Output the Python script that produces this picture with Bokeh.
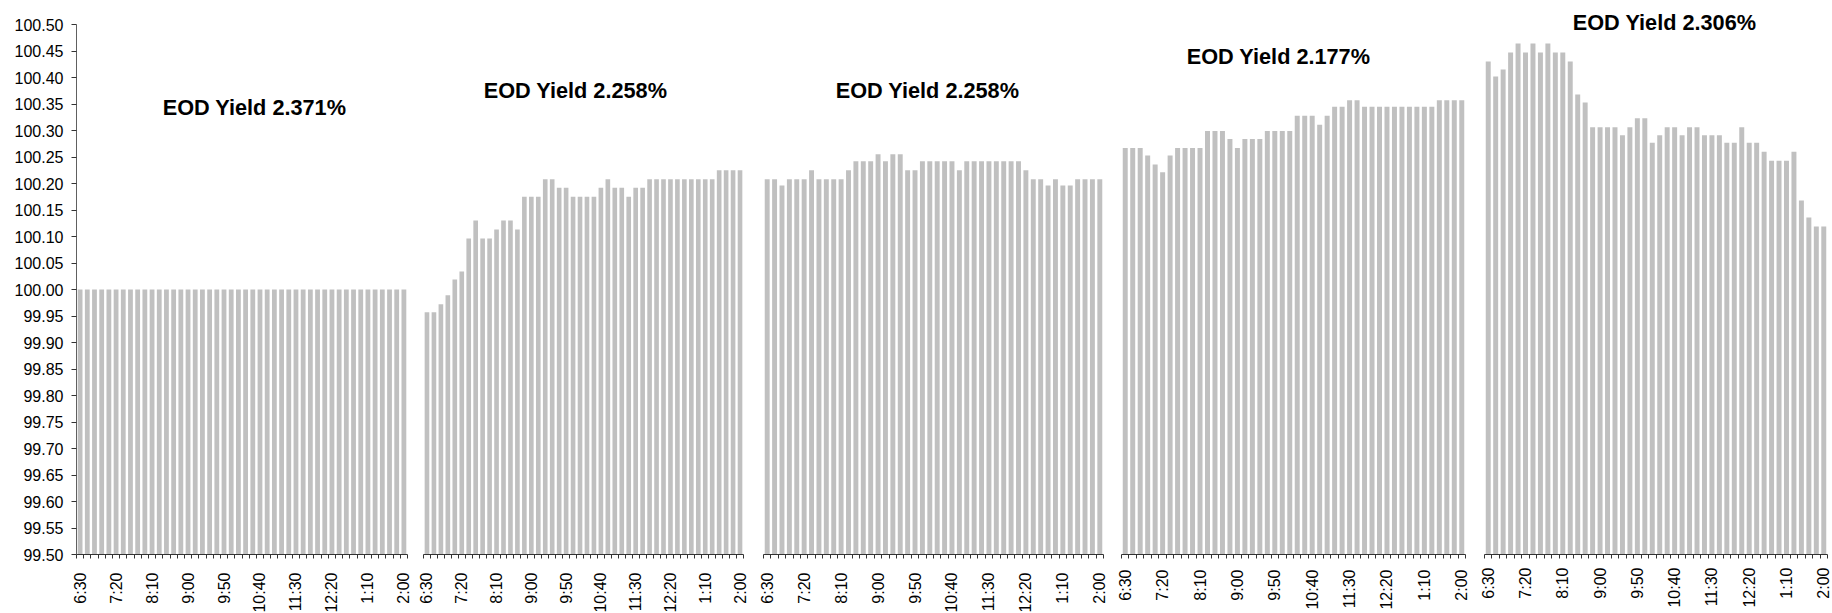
import numpy as np
from bokeh.plotting import figure
from bokeh.layouts import row
from bokeh.models import Range1d, FixedTicker, Label, ColumnDataSource, PrintfTickFormatter
from bokeh.embed import file_html
from bokeh.resources import INLINE

# ---------------- data ----------------
TIMES = ["6:30", "6:40", "6:50",
         "7:00", "7:10", "7:20", "7:30", "7:40", "7:50",
         "8:00", "8:10", "8:20", "8:30", "8:40", "8:50",
         "9:00", "9:10", "9:20", "9:30", "9:40", "9:50",
         "10:00", "10:10", "10:20", "10:30", "10:40", "10:50",
         "11:00", "11:10", "11:20", "11:30", "11:40", "11:50",
         "12:00", "12:10", "12:20", "12:30", "12:40", "12:50",
         "1:00", "1:10", "1:20", "1:30", "1:40", "1:50",
         "2:00"]
LABEL_EVERY = 5

TITLES = ["EOD Yield 2.371%", "EOD Yield 2.258%", "EOD Yield 2.258%",
          "EOD Yield 2.177%", "EOD Yield 2.306%"]

DAY1 = [100.00, 100.00, 100.00, 100.00, 100.00, 100.00, 100.00, 100.00, 100.00, 100.00,
        100.00, 100.00, 100.00, 100.00, 100.00, 100.00, 100.00, 100.00, 100.00, 100.00,
        100.00, 100.00, 100.00, 100.00, 100.00, 100.00, 100.00, 100.00, 100.00, 100.00,
        100.00, 100.00, 100.00, 100.00, 100.00, 100.00, 100.00, 100.00, 100.00, 100.00,
        100.00, 100.00, 100.00, 100.00, 100.00, 100.00]

DAY2 = [99.957, 99.957, 99.972, 99.989, 100.019, 100.034, 100.096, 100.130, 100.096, 100.096,
        100.113, 100.130, 100.130, 100.113, 100.175, 100.175, 100.175, 100.208, 100.208, 100.192,
        100.192, 100.175, 100.175, 100.175, 100.175, 100.192, 100.208, 100.192, 100.192, 100.175,
        100.192, 100.192, 100.208, 100.208, 100.208, 100.208, 100.208, 100.208, 100.208, 100.208,
        100.208, 100.208, 100.225, 100.225, 100.225, 100.225]

DAY3 = [100.208, 100.208, 100.196, 100.208, 100.208, 100.208, 100.225, 100.208, 100.208, 100.208,
        100.208, 100.225, 100.242, 100.242, 100.242, 100.255, 100.242, 100.255, 100.255, 100.225,
        100.225, 100.242, 100.242, 100.242, 100.242, 100.242, 100.225, 100.242, 100.242, 100.242,
        100.242, 100.242, 100.242, 100.242, 100.242, 100.225, 100.208, 100.208, 100.196, 100.208,
        100.196, 100.196, 100.208, 100.208, 100.208, 100.208]

DAY4 = [100.267, 100.267, 100.267, 100.253, 100.236, 100.221, 100.253, 100.267, 100.267, 100.267,
        100.267, 100.299, 100.299, 100.299, 100.284, 100.267, 100.284, 100.284, 100.284, 100.299,
        100.299, 100.299, 100.299, 100.328, 100.328, 100.328, 100.311, 100.328, 100.345, 100.345,
        100.357, 100.357, 100.345, 100.345, 100.345, 100.345, 100.345, 100.345, 100.345, 100.345,
        100.345, 100.345, 100.357, 100.357, 100.357, 100.357]

DAY5 = [100.430, 100.402, 100.415, 100.447, 100.464, 100.447, 100.464, 100.447, 100.464, 100.447,
        100.447, 100.430, 100.368, 100.353, 100.306, 100.306, 100.306, 100.306, 100.291, 100.306,
        100.323, 100.323, 100.277, 100.291, 100.306, 100.306, 100.291, 100.306, 100.306, 100.291,
        100.291, 100.291, 100.277, 100.277, 100.306, 100.277, 100.277, 100.260, 100.243, 100.243,
        100.243, 100.260, 100.168, 100.136, 100.119, 100.119]

SERIES = [DAY1, DAY2, DAY3, DAY4, DAY5]

Y_MIN = 99.50
Y_MAX = 100.50
Y_STEP = 0.05

# ---------------- layout / style ----------------
BAR_COLOR = "#C0C0C0"
FONT = "Liberation Sans"
TOTAL_H = 613
FRAME_H = 548
PX_PER_UNIT = 530.0
Y_TOP = Y_MIN + FRAME_H / PX_PER_UNIT

FRAME_W = [331, 320, 340, 344, 343]
B_LEFT = [76, 8, 10, 9, 10]
B_RIGHT = [8, 10, 9, 9, 4]
B_TOP = [1, 1, 1, 4, 6]
STANDOFF = [14, 14, 14, 11, 9]
TITLE_X = [24.24, 21.35, 21.69, 20.5, 23.65]
TITLE_Y = [100.344, 100.375, 100.375, 100.439, 100.503]

n = len(TIMES)
xs = np.arange(n)
major = [k for k in range(0, n, LABEL_EVERY)]
minor = [k - 0.5 for k in range(n + 1)]
overrides = {k: TIMES[k] for k in major}
yticks = [round(v, 2) for v in np.arange(Y_MIN, Y_MAX + 1e-9, Y_STEP)]

figs = []
for i, vals in enumerate(SERIES):
    bb = TOTAL_H - FRAME_H - B_TOP[i]
    p = figure(frame_width=FRAME_W[i], frame_height=FRAME_H, title=None,
               x_range=Range1d(-0.5, n - 0.5), y_range=Range1d(Y_MIN, Y_TOP),
               output_backend="svg", toolbar_location=None,
               min_border=1,
               min_border_left=B_LEFT[i], min_border_right=B_RIGHT[i],
               min_border_top=B_TOP[i], min_border_bottom=bb,
               y_axis_location="left" if i == 0 else None)
    p.background_fill_color = "white"
    p.border_fill_color = "white"
    p.outline_line_color = None
    p.xgrid.visible = False
    p.ygrid.visible = False

    src = ColumnDataSource(dict(x=xs, top=vals, t=TIMES))
    p.vbar(x="x", top="top", bottom=Y_MIN, width=0.667, source=src,
           fill_color=BAR_COLOR, line_color=None)

    xa = p.xaxis[0]
    xa.ticker = FixedTicker(ticks=major, minor_ticks=minor)
    xa.major_label_overrides = overrides
    xa.major_tick_out = 0
    xa.major_tick_in = 0
    xa.minor_tick_out = 4
    xa.minor_tick_in = 0
    xa.minor_tick_line_color = "#333333"
    xa.axis_line_color = "#333333"
    xa.major_label_orientation = np.pi / 2
    xa.major_label_standoff = STANDOFF[i]
    xa.major_label_text_font = FONT
    xa.major_label_text_font_size = "16px"
    xa.major_label_text_color = "black"

    if i == 0:
        ya = p.yaxis[0]
        ya.ticker = FixedTicker(ticks=yticks)
        ya.formatter = PrintfTickFormatter(format="%.2f")
        ya.bounds = (Y_MIN, Y_MAX)
        ya.major_tick_out = 5
        ya.major_tick_in = 0
        ya.minor_tick_out = 0
        ya.minor_tick_in = 0
        ya.axis_line_color = "#606060"
        ya.major_tick_line_color = "#333333"
        ya.major_label_standoff = 8
        ya.major_label_text_font = FONT
        ya.major_label_text_font_size = "16px"
        ya.major_label_text_color = "black"

    p.add_layout(Label(x=TITLE_X[i], y=TITLE_Y[i], text=TITLES[i],
                       text_align="center", text_baseline="middle",
                       text_font=FONT, text_font_style="bold",
                       text_font_size="21.7px", text_color="black"))
    figs.append(p)

layout = row(*figs, spacing=0)
open("out.html", "w").write(file_html(layout, INLINE))
